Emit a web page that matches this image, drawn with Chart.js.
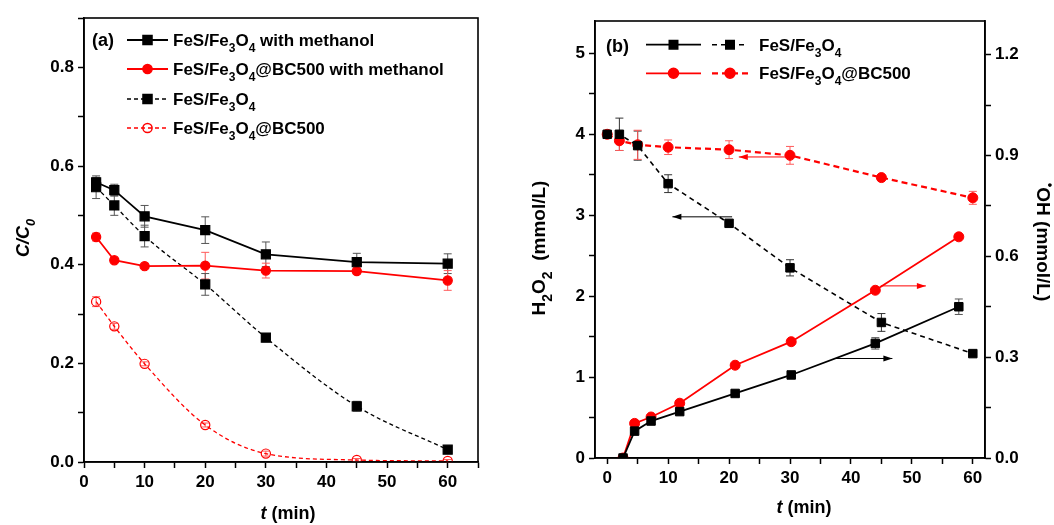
<!DOCTYPE html>
<html>
<head>
<meta charset="utf-8">
<script src="https://cdn.jsdelivr.net/npm/chart.js@4.4.1/dist/chart.umd.min.js"></script>
<style>
  body { margin: 0; background: #fff; }
  .panel { position: absolute; top: 0; }
</style>
</head>
<body>
<div class="panel" style="left:0"><canvas id="chartA" width="527" height="525"></canvas></div>
<div class="panel" style="left:527px"><canvas id="chartB" width="527" height="525"></canvas></div>
<script>
// ---- panel (a): C/C0 vs time ----
const timeA = [2, 5, 10, 20, 30, 45, 60];
const fesMeth = [0.567, 0.551, 0.498, 0.470, 0.421, 0.405, 0.402];
const fesMethErr = [0.01, 0.012, 0.022, 0.027, 0.025, 0.018, 0.02];
const bcMeth = [0.456, 0.409, 0.397, 0.398, 0.388, 0.387, 0.368];
const bcMethErr = [0.008, 0.004, 0.004, 0.027, 0.015, 0.006, 0.02];
const fes = [0.557, 0.520, 0.458, 0.360, 0.252, 0.113, 0.025];
const fesErr = [0.023, 0.02, 0.022, 0.022, 0.008, 0.01, 0.004];
const bc = [0.325, 0.275, 0.199, 0.075, 0.017, 0.004, 0.002];
const bcErr = [0.01, 0.006, 0.004, 0.004, 0.005, 0.003, 0.003];

// ---- panel (b): H2O2 (left axis) and OH (right axis) ----
const timeH = [0, 2, 5, 10, 20, 30, 45, 60];
const h2o2Fes = [4.0, 4.0, 3.86, 3.39, 2.90, 2.35, 1.675, 1.29];
const h2o2FesErr = [0, 0.2, 0.18, 0.11, 0, 0.1, 0.11, 0];
const h2o2Bc = [4.0, 3.92, 3.87, 3.84, 3.81, 3.74, 3.465, 3.215];
const h2o2BcErr = [0, 0.12, 0.18, 0.09, 0.11, 0.11, 0, 0.08];
const timeOH = [2.6, 4.5, 7.2, 11.9, 21, 30.2, 44, 57.7];
const ohFes = [0, 0.080, 0.110, 0.138, 0.192, 0.247, 0.341, 0.450];
const ohFesErr = [0, 0, 0, 0, 0, 0, 0.017, 0.023];
const ohBc = [0, 0.103, 0.122, 0.163, 0.276, 0.346, 0.499, 0.658];

// arrows pointing at the axis each curve belongs to: [from x, to x, y, axis]
const arrowsB = [
  [20.5, 10.7, 2.98, 'y', '#000'],
  [29.6, 21.6, 3.72, 'y', '#f00'],
  [37.5, 46.8, 0.296, 'y2', '#000'],
  [44.9, 52.3, 0.512, 'y2', '#f00']
];

const FONT = '"Liberation Sans", Arial, sans-serif';
Chart.defaults.font.family = FONT;
Chart.defaults.font.size = 17;
Chart.defaults.font.weight = 'bold';
Chart.defaults.color = '#000';

const pts = (xs, ys) => xs.map((x, i) => ({ x: x, y: ys[i] }));

// text with _x subscripts, ^x superscripts, *italic* parts
function rich(ctx, str, x, y, size, align, subScale) {
  const sc = subScale || 0.7;
  const parts = [];
  let it = false;
  for (let i = 0; i < str.length; i++) {
    const c = str[i];
    if (c === '*') { it = !it; continue; }
    if (c === '_' || c === '^') { parts.push({ t: str[i + 1], k: c, it: it }); i++; continue; }
    const last = parts[parts.length - 1];
    if (last && !last.k && last.it === it) last.t += c;
    else parts.push({ t: c, k: '', it: it });
  }
  const fontOf = p => (p.it ? 'italic ' : '') + 'bold ' + (p.k ? Math.round(size * sc) : size) + 'px ' + FONT;
  let w = 0;
  parts.forEach(p => { ctx.font = fontOf(p); p.w = ctx.measureText(p.t).width; w += p.w; });
  let cx = align === 'center' ? x - w / 2 : x;
  ctx.textAlign = 'left';
  ctx.textBaseline = 'alphabetic';
  parts.forEach(p => {
    ctx.font = fontOf(p);
    const dy = p.k === '_' ? size * 0.35 : p.k === '^' ? -size * 0.45 : 0;
    ctx.fillText(p.t, cx, y + dy);
    cx += p.w;
  });
}

function marker(ctx, ds, x, y) {
  ctx.save();
  ctx.setLineDash([]);
  ctx.lineWidth = 1.5;
  ctx.strokeStyle = ds.borderColor;
  ctx.fillStyle = ds.pointBackgroundColor;
  ctx.beginPath();
  if (ds.pointStyle === 'rect') {
    const s = Math.SQRT1_2 * ds.pointRadius;
    ctx.rect(x - s, y - s, 2 * s, 2 * s);
  } else {
    ctx.arc(x, y, ds.pointRadius, 0, Math.PI * 2);
  }
  ctx.fill();
  ctx.stroke();
  ctx.restore();
}

function sample(ctx, ds, x0, x1, y) {
  ctx.save();
  ctx.strokeStyle = ds.borderColor;
  ctx.lineWidth = ds.borderWidth;
  ctx.setLineDash(ds.borderDash || []);
  ctx.beginPath();
  ctx.moveTo(x0, y);
  ctx.lineTo(x1, y);
  ctx.stroke();
  ctx.restore();
  marker(ctx, ds, (x0 + x1) / 2, y);
}

const errorBars = {
  id: 'errorBars',
  beforeDatasetsDraw(chart) {
    const ctx = chart.ctx;
    chart.data.datasets.forEach((ds, i) => {
      if (!ds.err) return;
      const meta = chart.getDatasetMeta(i);
      const ys = chart.scales[meta.yAxisID];
      ctx.save();
      ctx.strokeStyle = ds.errColor;
      ctx.lineWidth = 1;
      meta.data.forEach((pt, j) => {
        const e = ds.err[j];
        if (!e) return;
        const v = ds.data[j].y;
        const top = ys.getPixelForValue(v + e), bot = ys.getPixelForValue(v - e);
        ctx.beginPath();
        ctx.moveTo(pt.x, top); ctx.lineTo(pt.x, bot);
        ctx.moveTo(pt.x - 4, top); ctx.lineTo(pt.x + 4, top);
        ctx.moveTo(pt.x - 4, bot); ctx.lineTo(pt.x + 4, bot);
        ctx.stroke();
      });
      ctx.restore();
    });
  }
};

const frame = {
  id: 'frame',
  afterDraw(chart) {
    const a = chart.chartArea, ctx = chart.ctx;
    ctx.save();
    ctx.strokeStyle = '#000';
    ctx.lineWidth = 1.6;
    ctx.strokeRect(a.left, a.top, a.right - a.left, a.bottom - a.top);
    ctx.restore();
  }
};

function tickScale(min, max, step, labelEvery, digits, fit) {
  return {
    type: 'linear', min: min, max: max,
    afterBuildTicks: s => { s.ticks = s.ticks.filter(t => Math.abs(t.value / step - Math.round(t.value / step)) < 1e-6); },
    afterFit: fit,
    ticks: {
      stepSize: step, includeBounds: false, autoSkip: false, padding: 4, color: '#000',
      font: { size: 17, weight: 'bold' },
      callback: v => Math.abs(v / labelEvery - Math.round(v / labelEvery)) < 1e-6 ? v.toFixed(digits) : ''
    },
    grid: { drawOnChartArea: false, drawTicks: true, tickLength: 6, tickColor: '#000', tickWidth: 1.5 },
    border: { display: true, color: '#000', width: 1.6 }
  };
}

// ---------- chart (a) ----------
const dsA = [
  { label: 'FeS/Fe_3O_4 with methanol', data: pts(timeA, fesMeth), err: fesMethErr, errColor: '#555',
    borderColor: '#000', borderWidth: 1.8, pointStyle: 'rect', pointRadius: 6.4, pointBackgroundColor: '#000' },
  { label: 'FeS/Fe_3O_4@BC500 with methanol', data: pts(timeA, bcMeth), err: bcMethErr, errColor: '#ff5a5a',
    borderColor: '#f00', borderWidth: 1.8, pointStyle: 'circle', pointRadius: 4.6, pointBackgroundColor: '#f00' },
  { label: 'FeS/Fe_3O_4', data: pts(timeA, fes), err: fesErr, errColor: '#555',
    borderColor: '#000', borderWidth: 1.3, borderDash: [4, 3], cubicInterpolationMode: 'monotone',
    pointStyle: 'rect', pointRadius: 6.4, pointBackgroundColor: '#000' },
  { label: 'FeS/Fe_3O_4@BC500', data: pts(timeA, bc), err: bcErr, errColor: '#ff5a5a',
    borderColor: '#f00', borderWidth: 1.3, borderDash: [4, 3], cubicInterpolationMode: 'monotone',
    pointStyle: 'circle', pointRadius: 4.6, pointBackgroundColor: 'rgba(0,0,0,0)' }
];
dsA.forEach(d => { d.pointBorderColor = d.borderColor; d.pointBorderWidth = 1.2; d.fill = false; });

const labelsA = {
  id: 'labelsA',
  afterDraw(chart) {
    const ctx = chart.ctx, a = chart.chartArea;
    ctx.save();
    ctx.fillStyle = '#000';
    rich(ctx, '(a)', 92, 46, 18, 'left');
    const rows = [40, 69, 99, 128];
    chart.data.datasets.forEach((ds, i) => {
      sample(ctx, ds, 127, 168, rows[i]);
      ctx.fillStyle = '#000';
      rich(ctx, ds.label, 173, rows[i] + 6, 17, 'left');
    });
    rich(ctx, '*t* (min)', (a.left + a.right) / 2 + 7, 519, 18, 'center');
    ctx.translate(23, 238);
    ctx.rotate(-Math.PI / 2);
    rich(ctx, '*C/C_0*', 0, 6, 18, 'center');
    ctx.restore();
  }
};

new Chart(document.getElementById('chartA'), {
  type: 'line',
  data: { datasets: dsA },
  options: {
    responsive: false, animation: false,
    layout: { padding: { top: 18, right: 49, left: 0, bottom: 0 } },
    plugins: { legend: { display: false }, tooltip: { enabled: false } },
    scales: {
      x: tickScale(0, 65, 5, 10, 0, s => { s.height = 63; }),
      y: tickScale(0, 0.9, 0.1, 0.2, 1, s => { s.width = 84; })
    }
  },
  plugins: [errorBars, frame, labelsA]
});

// ---------- chart (b) ----------
const dsB = [
  { label: 'FeS/Fe_3O_4', data: pts(timeOH, ohFes), err: ohFesErr, errColor: '#555', yAxisID: 'y2',
    borderColor: '#000', borderWidth: 1.8, pointStyle: 'rect', pointRadius: 6, pointBackgroundColor: '#000' },
  { label: 'FeS/Fe_3O_4@BC500', data: pts(timeOH, ohBc), yAxisID: 'y2',
    borderColor: '#f00', borderWidth: 1.8, pointStyle: 'circle', pointRadius: 5, pointBackgroundColor: '#f00' },
  { label: 'FeS/Fe_3O_4', data: pts(timeH, h2o2Fes), err: h2o2FesErr, errColor: '#333', yAxisID: 'y',
    borderColor: '#000', borderWidth: 1.6, borderDash: [5, 4], pointStyle: 'rect', pointRadius: 6, pointBackgroundColor: '#000' },
  { label: 'FeS/Fe_3O_4@BC500', data: pts(timeH, h2o2Bc), err: h2o2BcErr, errColor: '#ff5a5a', yAxisID: 'y',
    borderColor: '#f00', borderWidth: 2.2, borderDash: [6, 4], pointStyle: 'circle', pointRadius: 5, pointBackgroundColor: '#f00' }
];
dsB.forEach(d => { d.pointBorderColor = d.borderColor; d.pointBorderWidth = 1; d.fill = false; });

const labelsB = {
  id: 'labelsB',
  afterDraw(chart) {
    const ctx = chart.ctx, a = chart.chartArea, xs = chart.scales.x;
    ctx.save();
    // arrows
    arrowsB.forEach(ar => {
      const ys = chart.scales[ar[3]];
      const x0 = xs.getPixelForValue(ar[0]), x1 = xs.getPixelForValue(ar[1]), y = ys.getPixelForValue(ar[2]);
      const dir = Math.sign(x1 - x0);
      ctx.strokeStyle = ar[4];
      ctx.fillStyle = ar[4];
      ctx.lineWidth = 1;
      ctx.beginPath();
      ctx.moveTo(x0, y); ctx.lineTo(x1, y);
      ctx.stroke();
      ctx.beginPath();
      ctx.moveTo(x1, y);
      ctx.lineTo(x1 - dir * 9, y - 3);
      ctx.lineTo(x1 - dir * 9, y + 3);
      ctx.closePath();
      ctx.fill();
    });
    ctx.fillStyle = '#000';
    rich(ctx, '(b)', 606 - 527, 52, 18, 'left');
    const rows = [44.7, 73.3];
    [[0, 2], [1, 3]].forEach((pair, r) => {
      sample(ctx, chart.data.datasets[pair[0]], 646 - 527, 701 - 527, rows[r]);
      sample(ctx, chart.data.datasets[pair[1]], 712 - 527, 748 - 527, rows[r]);
      ctx.fillStyle = '#000';
      rich(ctx, chart.data.datasets[pair[0]].label, 759 - 527, rows[r] + 6, 17, 'left');
    });
    rich(ctx, '*t* (min)', (a.left + a.right) / 2 + 14, 513, 18, 'center');
    ctx.save();
    ctx.translate(12, 248);
    ctx.rotate(-Math.PI / 2);
    rich(ctx, 'H_2O_2  (mmol/L)', 0, 6, 19, 'center', 0.75);
    ctx.restore();
    ctx.translate(516, 242);
    ctx.rotate(Math.PI / 2);
    rich(ctx, '^\u2022OH (mmol/L)', 0, 6, 19, 'center');
    ctx.restore();
  }
};

new Chart(document.getElementById('chartB'), {
  type: 'line',
  data: { datasets: dsB },
  options: {
    responsive: false, animation: false,
    layout: { padding: { top: 21, right: 0, left: 0, bottom: 0 } },
    plugins: { legend: { display: false }, tooltip: { enabled: false } },
    scales: {
      x: tickScale(-2, 62, 5, 10, 0, s => { s.height = 67; }),
      y: tickScale(0, 5.4, 0.5, 1, 0, s => { s.width = 68; }),
      y2: Object.assign(tickScale(0, 1.3, 0.15, 0.3, 1, s => { s.width = 69; }), { position: 'right' })
    }
  },
  plugins: [errorBars, frame, labelsB]
});
</script>
</body>
</html>
